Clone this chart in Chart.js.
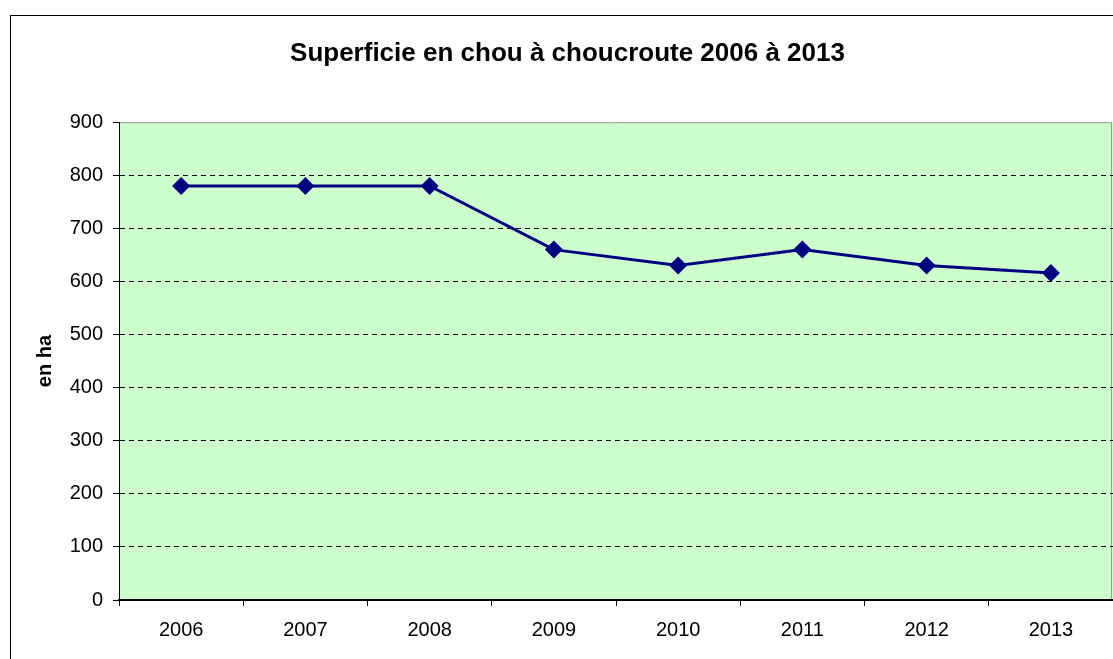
<!DOCTYPE html>
<html lang="fr">
<head>
    <meta charset="UTF-8">
    <title>Superficie en chou à choucroute 2006 à 2013</title>
    <script src="https://cdn.jsdelivr.net/npm/chart.js"></script>
    <style>
        html, body {
            margin: 0;
            padding: 0;
            background: #fff;
            overflow: hidden;
        }
        #wrap {
            width: 1113px;
            height: 659px;
        }
    </style>
</head>
<body>

<div id="wrap"><canvas id="myChart"></canvas></div>

<script>
    // données
    const annees = ['2006', '2007', '2008', '2009', '2010', '2011', '2012', '2013'];
    const superficie = [780, 780, 780, 660, 630, 660, 630, 616];
    const graduations = [0, 100, 200, 300, 400, 500, 600, 700, 800, 900];

    const police = "Arial, 'Liberation Sans', sans-serif";

    // cadre extérieur + fond vert de la zone de traçage
    const fondPlugin = {
        id: 'fond',
        beforeDraw(chart) {
            const ctx = chart.ctx;
            const a = chart.chartArea;
            ctx.save();
            ctx.fillStyle = '#ffffff';
            ctx.fillRect(0, 0, chart.width, chart.height);
            ctx.strokeStyle = '#000000';
            ctx.lineWidth = 1;
            ctx.strokeRect(10.5, 15.5, chart.width + 20, chart.height + 20);
            ctx.fillStyle = '#ccffcc';
            ctx.fillRect(a.left, a.top, a.right - a.left, a.bottom - a.top);
            ctx.strokeStyle = '#999999';
            ctx.beginPath();
            ctx.moveTo(a.left, a.top + 0.5);
            ctx.lineTo(a.right - 1.5, a.top + 0.5);
            ctx.lineTo(a.right - 1.5, a.bottom);
            ctx.stroke();
            ctx.restore();
        }
    };

    const ctx = document.getElementById('myChart').getContext('2d');
    const myChart = new Chart(ctx, {
        type: 'line',
        data: {
            labels: annees,
            datasets: [{
                data: superficie,
                borderColor: '#000080',
                backgroundColor: '#000080',
                borderWidth: 3,
                pointStyle: 'rectRot',
                pointRadius: 9,
                pointBorderWidth: 0,
                tension: 0
            }]
        },
        options: {
            responsive: true,
            maintainAspectRatio: false,
            animation: false,
            layout: { padding: { left: 22, right: 0, top: 0, bottom: 0 }, autoPadding: false },
            plugins: {
                legend: { display: false },
                tooltip: { enabled: false },
                title: {
                    display: true,
                    text: 'Superficie en chou à choucroute 2006 à 2013',
                    color: '#000',
                    font: { family: police, size: 26, weight: 'bold', lineHeight: 1.2 },
                    padding: { top: 38, bottom: 53 }
                }
            },
            scales: {
                x: {
                    offset: true,
                    afterFit(scale) {
                        scale.height = 59;
                        scale.paddingLeft = 0;
                        scale.paddingRight = 0;
                    },
                    grid: {
                        offset: true,
                        drawOnChartArea: false,
                        drawTicks: true,
                        tickLength: 6,
                        tickColor: '#000'
                    },
                    border: { color: '#000', width: 2 },
                    ticks: {
                        color: '#000',
                        padding: 12,
                        font: { family: police, size: 20 }
                    }
                },
                y: {
                    min: 0,
                    max: 900,
                    afterFit(scale) { scale.width = 97; },
                    afterBuildTicks(scale) {
                        scale.ticks = graduations.map(v => ({ value: v }));
                    },
                    grid: {
                        color: c => (c.tick && (c.tick.value === 0 || c.tick.value === 900)) ? 'rgba(0,0,0,0)' : '#000',
                        lineWidth: 1,
                        drawTicks: true,
                        tickLength: 6,
                        tickColor: '#000',
                        tickBorderDash: [1, 0]
                    },
                    border: { color: '#000', width: 1, dash: [5, 4] },
                    ticks: {
                        color: '#000',
                        padding: 10,
                        font: { family: police, size: 20 }
                    },
                    title: {
                        display: true,
                        text: 'en ha',
                        color: '#000',
                        font: { family: police, size: 20, weight: 'bold' },
                        padding: { top: 11, bottom: 0 }
                    }
                }
            }
        },
        plugins: [fondPlugin]
    });
</script>

</body>
</html>
